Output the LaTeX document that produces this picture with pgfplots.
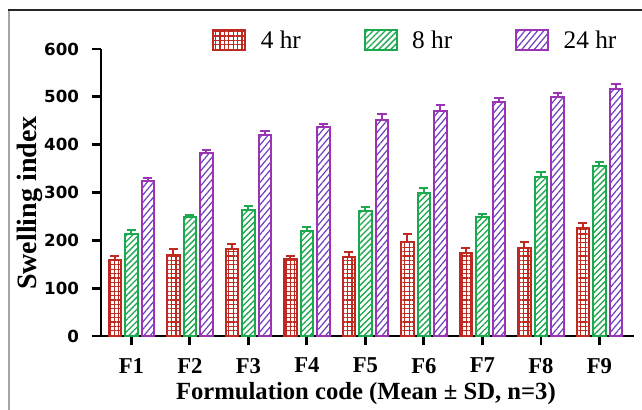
\documentclass[border=0pt]{standalone}
\usepackage{fontspec}
\setmainfont{Liberation Serif}
\newfontfamily\tickfont{DejaVu Sans}
\usepackage{pgfplots}
\usepackage{pgfplotstable}
\pgfplotsset{compat=1.18}
\usetikzlibrary{patterns.meta}
\definecolor{cred}{RGB}{190,42,32}
\definecolor{cgreen}{RGB}{28,168,78}
\definecolor{cpurple}{RGB}{155,52,178}
\definecolor{cpurpleline}{RGB}{110,60,190}

\pgfplotstableread{
x y e
1 159 9
2 169 12
3 181 12
4 160 8
5 166 9
6 197 16
7 173 10
8 185 11
9 225 12
}\tfour
\pgfplotstableread{
x y e
1 213 8
2 248 5
3 263 8
4 220 8
5 262 8
6 298 12
7 248 8
8 333 10
9 355 9
}\teight
\pgfplotstableread{
x y e
1 323 8
2 382 6
3 420 8
4 437 6
5 452 12
6 471 12
7 490 8
8 500 7
9 516 11
}\ttwentyfour

\begin{document}
\begin{tikzpicture}
\path[use as bounding box] (0pt,0pt) rectangle (481.5pt,307.5pt);
\draw[gray!70, line width=1.2pt] (6.75pt,0pt) -- (6.75pt,300pt);
\draw[black!85, line width=1pt] (6.3pt,300pt) -- (481.5pt,300pt);
\begin{axis}[
  at={(75.75pt,55.5pt)}, anchor=south west,
  scale only axis,
  width=399.75pt, height=215.25pt,
  xmin=0.48, xmax=9.59,
  ymin=0, ymax=600,
  ybar=3pt, bar width=9.4pt,
  axis x line=bottom, axis y line=left,
  axis line style={line width=2.2pt, -},
  every tick/.style={black, line width=2.2pt},
  tick align=outside,
  major tick length=7pt,
  xtick={1,...,9},
  xticklabels={F1,F2,F3,F4,F5,F6,F7,F8,F9},
  ytick={0,100,...,600},
  /pgf/number format/assume math mode=true,
  yticklabel style={font=\tickfont\bfseries\fontsize{12.5}{14}\selectfont, xshift=-6pt},
  xticklabel style={font=\bfseries\fontsize{17}{19}\selectfont, yshift=-6pt},
  xlabel={Formulation code (Mean ± SD, n=3)},
  ylabel={Swelling index},
  xlabel style={font=\bfseries\fontsize{18.5}{20}\selectfont, at={(axis description cs:0.497,-0.2)}, anchor=center},
  ylabel style={font=\bfseries\fontsize{21}{23}\selectfont, at={(axis description cs:-0.133,0.463)}, anchor=center},
  clip=false,
  legend columns=3,
  legend style={draw=none, fill=none, at={(axis description cs:0.208,1.031)}, anchor=west,
     inner sep=0pt, font=\fontsize{19}{21}\selectfont,
     /tikz/every even column/.append style={column sep=47pt},
     nodes={inner sep=0pt, text depth=0pt}},
  legend image code/.code={\draw[#1, line width=1.5pt] (0pt,-7.5pt) rectangle (24pt,7.5pt);},
  legend cell align=left,
]
\addplot[draw=cred, line width=1.5pt, fill=white,
  postaction={pattern={Hatch[angle=0,distance=3.3pt,line width=1pt]}, pattern color=cred},
  error bars/.cd, y dir=plus, y explicit,
  error bar style={line width=1.5pt, cred},
  error mark options={rotate=90, line width=1.5pt, mark size=3.4pt, cred}]
  table[x=x, y=y, y error=e] {\tfour};
\addlegendentry{\hspace{11pt}4 hr}
\addplot[draw=cgreen, line width=1.5pt, fill=white,
  postaction={pattern={Lines[angle=45,distance=3.2pt,line width=1pt]}, pattern color=cgreen},
  error bars/.cd, y dir=plus, y explicit,
  error bar style={line width=1.5pt, cgreen},
  error mark options={rotate=90, line width=1.5pt, mark size=3.4pt, cgreen}]
  table[x=x, y=y, y error=e] {\teight};
\addlegendentry{\hspace{11pt}8 hr}
\addplot[draw=cpurple, line width=1.5pt, fill=white,
  postaction={pattern={Lines[angle=50,distance=3.6pt,line width=0.9pt]}, pattern color=cpurpleline},
  error bars/.cd, y dir=plus, y explicit,
  error bar style={line width=1.5pt, cpurple},
  error mark options={rotate=90, line width=1.5pt, mark size=3.4pt, cpurple}]
  table[x=x, y=y, y error=e] {\ttwentyfour};
\addlegendentry{\hspace{11pt}24 hr}
\end{axis}
\end{tikzpicture}
\end{document}
